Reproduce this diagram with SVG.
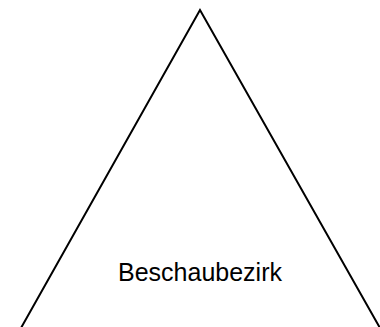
<svg xmlns="http://www.w3.org/2000/svg" width="380" height="327" viewBox="0 0 380 327">
<style>
.edge{fill:none;stroke:#000;stroke-width:2;stroke-linejoin:miter}
.lbl{font-family:"Liberation Sans",Arial,sans-serif;font-size:25px;fill:#000;text-anchor:middle}
</style>
<rect width="380" height="327" fill="#fff"/>
<g id="connectors">
<polyline class="edge" points="21,328 200,10 380,328"/>
</g>
<g id="node-beschaubezirk">
<text class="lbl" x="200" y="281">Beschaubezirk</text>
</g>
</svg>
